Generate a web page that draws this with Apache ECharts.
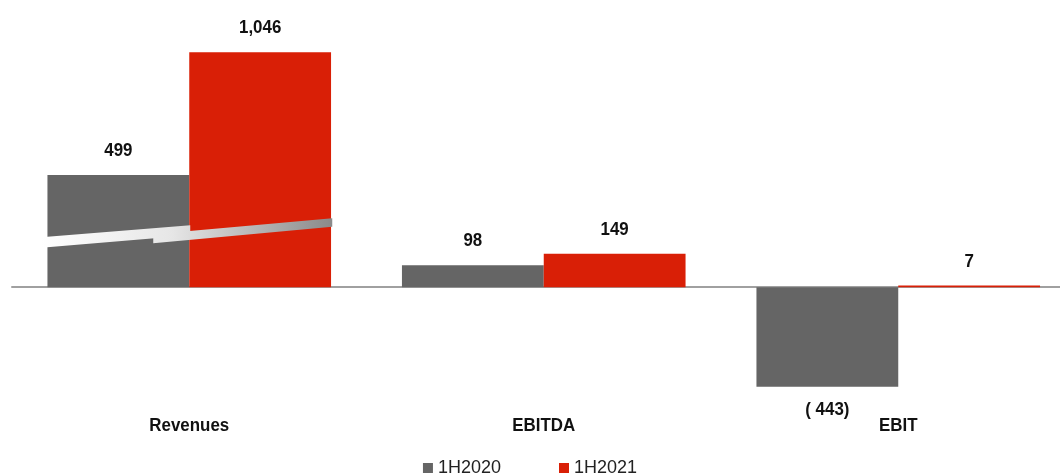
<!DOCTYPE html>
<html>
<head>
<meta charset="utf-8">
<title>1H2020 vs 1H2021</title>
<script src="https://cdn.jsdelivr.net/npm/echarts@6/dist/echarts.min.js"></script>
<style>
  html, body { margin: 0; padding: 0; background: #fff; }
  #chart { width: 1060px; height: 476px; }
</style>
</head>
<body>
<div id="chart"></div>
<script>
// Key figures, half-year comparison
const categories = ['Revenues', 'EBITDA', 'EBIT'];
const seriesNames = ['1H2020', '1H2021'];
const values1H2020 = [499, 98, -443];
const values1H2021 = [1046, 149, 7];

const FONT = '"Liberation Sans", Arial, sans-serif';
const NARROW = 0.89;          // horizontal squeeze for a narrow bold look
const GREY = '#656565';
const RED = '#D91F06';
const INK = '#111';
const CAT_GAP = 0.2;          // barCategoryGap as a fraction

function fmt(v) {
  const s = Math.abs(v).toLocaleString('en-US');
  return v < 0 ? '( ' + s + ')' : s;
}

function barSeries(name, data, color) {
  return {
    name: name,
    type: 'bar',
    barGap: '0%',
    barCategoryGap: (CAT_GAP * 100) + '%',
    itemStyle: { color: color },
    data: data
  };
}

// value labels: [category index, value, series index]
const valueLabelData = [];
[values1H2020, values1H2021].forEach((arr, s) => {
  arr.forEach((v, i) => valueLabelData.push([i, v, s]));
});

function narrowText(x, y, text, size, weight) {
  return {
    type: 'text',
    x: x, y: y,
    scaleX: NARROW,
    style: {
      text: text,
      fontFamily: FONT,
      fontWeight: weight,
      fontSize: size,
      fill: INK,
      align: 'center',
      verticalAlign: 'middle'
    }
  };
}

// Slanted scale-break band across the Revenues bars (offsets in px from the category centre)
const breakPieces = [
  [[-148, -50], [1, -62], [1, -52], [-148, -39.5]],
  [[-36, -53], [143, -69], [143, -60.5], [-36, -44]]
];

const chart = echarts.init(document.getElementById('chart'));
chart.setOption({
  animation: false,
  grid: { left: 12, width: 1063.5, top: 40, bottom: 63, outerBoundsMode: 'none' },
  legend: {
    top: 454,
    left: 'center',
    icon: 'rect',
    itemWidth: 10,
    itemHeight: 10,
    itemGap: 58,
    data: seriesNames,
    textStyle: { fontFamily: FONT, fontSize: 18, color: '#222' }
  },
  xAxis: {
    type: 'category',
    data: categories,
    axisLine: { show: true, onZero: true, lineStyle: { color: '#A0A0A0', width: 2 } },
    axisTick: { show: false },
    axisLabel: { show: false }
  },
  yAxis: {
    type: 'value',
    min: -560,
    max: 1100,
    show: false,
    splitLine: { show: false }
  },
  series: [
    barSeries(seriesNames[0], values1H2020, GREY),
    barSeries(seriesNames[1], values1H2021, RED),
    {
      // value labels above / below each bar
      type: 'custom',
      silent: true,
      z: 6,
      data: valueLabelData,
      renderItem: function (params, api) {
        const i = api.value(0), v = api.value(1), s = api.value(2);
        const c = api.coord([i, v]);
        const barW = api.size([1, 0])[0] * (1 - CAT_GAP) / 2;
        const x = c[0] + (s === 0 ? -barW / 2 : barW / 2);
        const y = v < 0 ? c[1] + 23 : c[1] - 24;
        return narrowText(x, y, fmt(v), 19, 'bold');
      }
    },
    {
      // category names along the bottom of the plot
      type: 'custom',
      silent: true,
      z: 6,
      data: categories.map((c, i) => [i, 0]),
      renderItem: function (params, api) {
        const c = api.coord([api.value(0), 0]);
        const y = params.coordSys.y + params.coordSys.height + 13;
        return narrowText(c[0], y, categories[params.dataIndex], 19, 'bold');
      }
    },
    {
      type: 'custom',
      silent: true,
      z: 5,
      data: [[0, 0]],
      renderItem: function (params, api) {
        const c = api.coord([api.value(0), api.value(1)]);
        const x0 = c[0] - 148, x1 = c[0] + 143;
        const fill = {
          type: 'linear', global: true,
          x: x0, y: 0, x2: x1, y2: 0,
          colorStops: [
            { offset: 0, color: '#ffffff' },
            { offset: 0.45, color: '#e6e6e6' },
            { offset: 1, color: '#8a8a8a' }
          ]
        };
        return {
          type: 'group',
          children: breakPieces.map(pts => ({
            type: 'polygon',
            shape: { points: pts.map(p => [c[0] + p[0], c[1] + p[1]]) },
            style: { fill: fill }
          }))
        };
      }
    }
  ]
});
</script>
</body>
</html>
